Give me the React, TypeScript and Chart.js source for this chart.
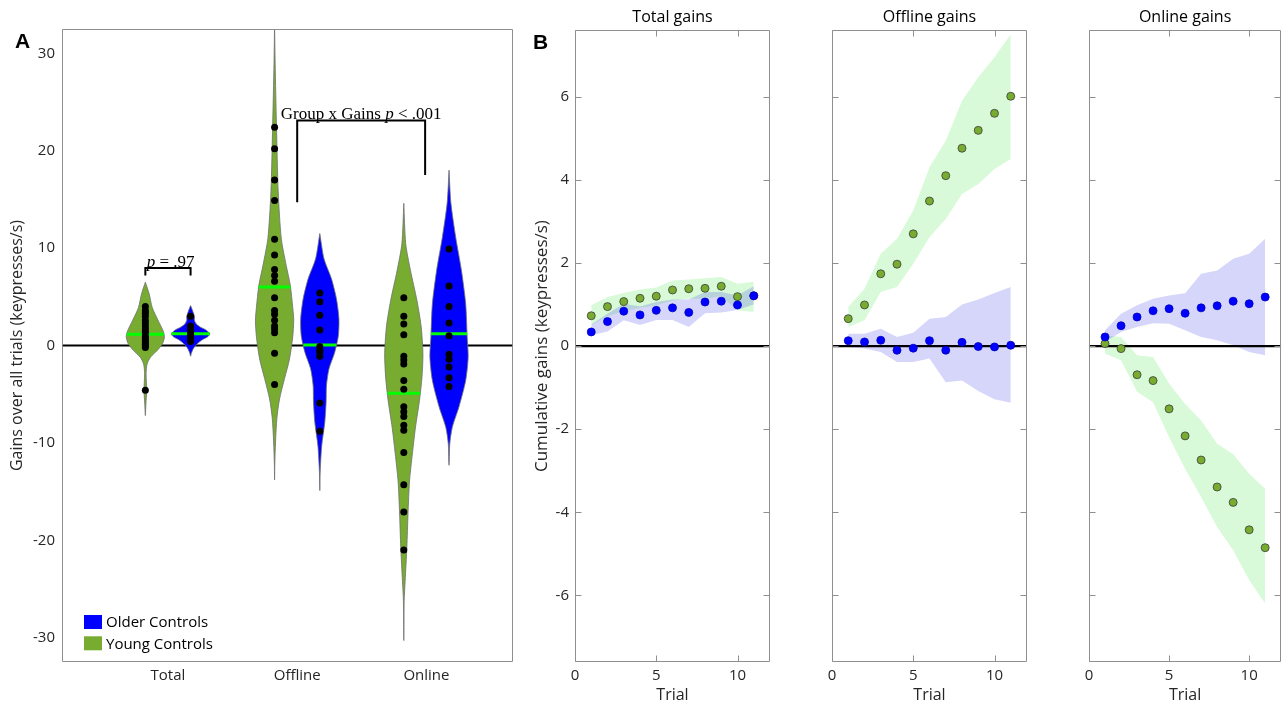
import React, { useEffect, useRef } from "react";
import { Chart, registerables } from "chart.js";

Chart.register(...registerables);

// ---------------- Panel A data ----------------
const categories = ["Total", "Offline", "Online"];
const groupNames = ["Older Controls", "Young Controls"];

// violin outlines: y values and relative density (1 = widest)
const totalYoungVY = [6.5, 5.3, 3.9, 2.6, 1.5, 0.9, 0.2, -0.5, -1.2, -1.9, -2.9, -4.6, -6.0, -7.2];
const totalYoungVD = [0, 0.2, 0.36, 0.66, 0.93, 1.0, 0.9, 0.63, 0.27, 0.09, 0.04, 0.07, 0.03, 0];
const totalOlderVY = [4.1, 3.5, 3.0, 2.6, 2.2, 1.9, 1.6, 1.2, 0.9, 0.6, 0.2, -0.3, -0.8, -1.1];
const totalOlderVD = [0, 0.12, 0.2, 0.2, 0.3, 0.5, 0.8, 1.0, 0.9, 0.62, 0.36, 0.15, 0.04, 0];
const offlineYoungVY = [33, 29, 22.6, 15.8, 11.0, 8.2, 6.2, 3.9, 2.6, 0.9, -1.4, -3.4, -5.5, -7.5, -9.9, -12.3, -13.8];
const offlineYoungVD = [0, 0.03, 0.1, 0.19, 0.35, 0.61, 0.82, 0.95, 1.0, 0.95, 0.78, 0.52, 0.26, 0.12, 0.05, 0.01, 0];
const offlineOlderVY = [11.5, 8.9, 6.85, 4.8, 2.74, 1.0, -0.7, -2.4, -4.1, -5.8, -7.9, -10.3, -13.0, -14.9];
const offlineOlderVD = [0, 0.22, 0.61, 0.87, 1.0, 0.97, 0.78, 0.48, 0.35, 0.33, 0.26, 0.1, 0.02, 0];
const onlineYoungVY = [14.6, 10.45, 7.7, 4.6, 1.9, -0.85, -3.26, -5.65, -8.4, -11.1, -13.9, -17.3, -20.7, -24.2, -26.2, -30.3];
const onlineYoungVD = [0, 0.1, 0.35, 0.69, 0.91, 1.0, 0.95, 0.82, 0.61, 0.45, 0.3, 0.22, 0.16, 0.07, 0.02, 0];
const onlineOlderVY = [18.0, 14.6, 11.1, 7.7, 4.3, 0.85, -1.2, -3.6, -6.3, -8.4, -10.1, -12.3];
const onlineOlderVD = [0, 0.1, 0.35, 0.65, 0.87, 0.95, 1.0, 0.87, 0.52, 0.17, 0.04, 0];

// individual participants
const totalYoungDots = [4.0, 3.6, 3.3, 3.0, 2.6, 2.3, 2.0, 1.7, 1.4, 1.2, 0.9, 0.7, 0.5, 0.3, 0.1, 0.0, -0.2, -4.6];
const totalOlderDots = [3.0, 2.0, 1.8, 1.5, 1.3, 1.1, 0.9, 0.7, 0.5, 0.4];
const offlineYoungDots = [22.4, 20.2, 17.0, 14.9, 10.9, 9.3, 7.8, 7.2, 6.6, 4.9, 3.6, 3.2, 2.6, 2.0, 1.7, 1.3, -0.8, -4.0];
const offlineOlderDots = [5.4, 4.5, 3.1, 1.6, -0.1, -0.5, -0.7, -1.1, -5.9, -8.8];
const onlineYoungDots = [4.9, 3.0, 2.2, 1.1, -1.1, -1.5, -1.9, -3.6, -4.5, -6.3, -6.8, -7.3, -8.2, -8.7, -11.0, -14.3, -17.1, -21.0];
const onlineOlderDots = [9.9, 6.1, 4.0, 2.3, 1.0, -0.9, -1.4, -2.2, -3.3, -4.2];

const youngMedians = [1.15, 6.0, -4.9];
const olderMedians = [1.2, 0.05, 1.2];

// significance brackets (data units)
const pBracketX = [0.825, 0.825, 1.175, 1.175];
const pBracketY = [7.2, 7.95, 7.95, 7.2];
const groupBracketX = [2.0, 2.0, 2.99, 2.99];
const groupBracketY = [14.7, 23.1, 23.1, 17.5];
const pAnnotation = { x: 1.02, y: 8.1, runs: [["p", true], [" = .97", false]] };
const groupAnnotation = { x: 2.495, y: 23.3, runs: [["Group x Gains ", false], ["p", true], [" < .001", false]] };

// ---------------- Panel B data ----------------
const trials = [1, 2, 3, 4, 5, 6, 7, 8, 9, 10, 11];
const panelTitles = ["Total gains", "Offline gains", "Online gains"];

const totalYoungMean = [0.73, 0.95, 1.07, 1.15, 1.2, 1.35, 1.38, 1.39, 1.44, 1.19, 1.21];
const totalYoungUpper = [0.98, 1.18, 1.28, 1.36, 1.41, 1.58, 1.6, 1.63, 1.66, 1.5, 1.55];
const totalYoungLower = [0.5, 0.72, 0.84, 0.92, 0.98, 1.1, 1.14, 1.14, 1.2, 0.86, 0.82];
const totalOlderMean = [0.34, 0.59, 0.84, 0.75, 0.86, 0.92, 0.81, 1.06, 1.08, 0.99, 1.21];
const totalOlderUpper = [0.52, 0.78, 1.02, 0.95, 1.06, 1.12, 1.12, 1.3, 1.3, 1.22, 1.44];
const totalOlderLower = [0.26, 0.35, 0.62, 0.51, 0.63, 0.63, 0.46, 0.79, 0.81, 0.87, 1.0];

const offlineYoungMean = [0.66, 0.99, 1.74, 1.97, 2.7, 3.49, 4.1, 4.76, 5.19, 5.6, 6.01];
const offlineYoungUpper = [0.94, 1.38, 2.22, 2.58, 3.26, 4.3, 4.94, 5.9, 6.47, 6.95, 7.5];
const offlineYoungLower = [0.46, 0.62, 1.3, 1.42, 1.98, 2.62, 3.06, 3.66, 3.9, 4.26, 4.5];
const offlineOlderMean = [0.13, 0.1, 0.14, -0.1, -0.05, 0.13, -0.1, 0.09, -0.01, -0.02, 0.02];
const offlineOlderUpper = [0.3, 0.3, 0.42, 0.22, 0.32, 0.66, 0.7, 1.0, 1.12, 1.28, 1.42];
const offlineOlderLower = [-0.02, -0.06, -0.14, -0.38, -0.38, -0.3, -0.87, -0.83, -1.08, -1.28, -1.36];

const onlineYoungMean = [0.06, -0.06, -0.69, -0.83, -1.51, -2.16, -2.74, -3.39, -3.76, -4.42, -4.85];
const onlineYoungUpper = [0.26, 0.22, -0.22, -0.26, -0.9, -1.39, -1.79, -2.35, -2.6, -3.07, -3.43];
const onlineYoungLower = [-0.18, -0.34, -1.1, -1.35, -2.19, -2.95, -3.63, -4.35, -4.91, -5.63, -6.19];
const onlineOlderMean = [0.22, 0.49, 0.7, 0.85, 0.9, 0.79, 0.92, 0.97, 1.08, 1.02, 1.18];
const onlineOlderUpper = [0.38, 0.78, 0.98, 1.14, 1.22, 1.27, 1.74, 1.82, 2.1, 2.22, 2.58];
const onlineOlderLower = [0.1, 0.34, 0.46, 0.55, 0.54, 0.38, 0.22, 0.14, 0.02, -0.14, -0.22];

// ---------------- style ----------------
const SANS = "'Open Sans', 'DejaVu Sans', sans-serif";
const SERIF = "'Liberation Serif', 'DejaVu Serif', serif";
const TEXT = "#262626";
const FRAME = "#8f8f8f";
const GREEN = "rgb(119,172,48)";
const BLUE = "rgb(0,0,255)";
const MEDIAN = "rgb(0,255,0)";
const GREEN_BAND = "rgba(60,230,60,0.2)";
const BLUE_BAND = "rgba(50,50,230,0.2)";
const VIOLIN_HALF = 0.148;
const GROUP_OFFSET = 0.175;
const A_X_MIN = 0.18;
const A_X_MAX = 3.67;
const A_Y_LIM = 32.5;
const B_X_MIN = 0;
const B_X_MAX = 12;
const B_Y_LIM = 7.6;

function densityAt(ys: number[], ds: number[], v: number) {
  for (let i = 0; i < ys.length - 1; i++) {
    const a = ys[i], b = ys[i + 1];
    if (v <= a && v >= b) {
      const t = (a - v) / (a - b);
      return ds[i] + t * (ds[i + 1] - ds[i]);
    }
  }
  return 0;
}

function violinOutline(center: number, ys: number[], ds: number[]) {
  const right = ys.map((y, i) => ({ x: center + ds[i] * VIOLIN_HALF, y }));
  const left: { x: number; y: number }[] = [];
  for (let i = ys.length - 2; i >= 1; i--) left.push({ x: center - ds[i] * VIOLIN_HALF, y: ys[i] });
  return [...right, ...left, right[0]];
}

function framePlugin(innerTicks: boolean) {
  return {
    id: "frameBox",
    afterDraw(chart: any) {
      const { ctx, chartArea: a, scales } = chart;
      const L = Math.round(a.left) + 0.5;
      const R = Math.round(a.right) - 0.5;
      const T = Math.round(a.top) + 0.5;
      const B = Math.round(a.bottom) - 0.5;
      ctx.save();
      ctx.strokeStyle = FRAME;
      ctx.lineWidth = 1;
      ctx.beginPath();
      ctx.rect(L, T, R - L, B - T);
      if (innerTicks) {
        const tl = 6;
        scales.x.ticks.forEach((t: any) => {
          const px = Math.round(scales.x.getPixelForValue(t.value)) + 0.5;
          ctx.moveTo(px, B);
          ctx.lineTo(px, B - tl);
          ctx.moveTo(px, T);
          ctx.lineTo(px, T + tl);
        });
        scales.y.ticks.forEach((t: any) => {
          const py = Math.round(scales.y.getPixelForValue(t.value)) + 0.5;
          ctx.moveTo(L, py);
          ctx.lineTo(L + tl, py);
          ctx.moveTo(R, py);
          ctx.lineTo(R - tl, py);
        });
      }
      ctx.stroke();
      ctx.restore();
    },
  };
}

const annotationPlugin = {
  id: "sigText",
  afterDatasetsDraw(chart: any) {
    const { ctx, scales } = chart;
    [pAnnotation, groupAnnotation].forEach((an: any) => {
      ctx.save();
      ctx.fillStyle = "#000";
      ctx.textBaseline = "alphabetic";
      const fonts = an.runs.map((r: any) => `${r[1] ? "italic " : ""}17px ${SERIF}`);
      let total = 0;
      const widths = an.runs.map((r: any, i: number) => {
        ctx.font = fonts[i];
        const w = ctx.measureText(r[0]).width;
        total += w;
        return w;
      });
      let cx = scales.x.getPixelForValue(an.x) - total / 2;
      const cy = scales.y.getPixelForValue(an.y);
      an.runs.forEach((r: any, i: number) => {
        ctx.font = fonts[i];
        ctx.fillText(r[0], cx, cy);
        cx += widths[i];
      });
      ctx.restore();
    });
  },
};

const groupLegendPlugin = {
  id: "groupLegend",
  afterDraw(chart: any) {
    const { ctx, chartArea: a } = chart;
    const colors = [BLUE, GREEN];
    ctx.save();
    groupNames.forEach((name, i) => {
      const yc = a.bottom - 40 + i * 21.3;
      ctx.fillStyle = colors[i];
      ctx.fillRect(a.left + 22, yc - 7, 18, 14);
      ctx.fillStyle = "#000";
      ctx.font = `15px ${SANS}`;
      ctx.textBaseline = "middle";
      ctx.textAlign = "left";
      ctx.fillText(name, a.left + 44, yc + 1);
    });
    ctx.restore();
  },
};

function buildPanelA() {
  const datasets: any[] = [];
  datasets.push({
    data: [{ x: A_X_MIN, y: 0 }, { x: A_X_MAX, y: 0 }],
    borderColor: "#000",
    borderWidth: 2,
    pointRadius: 0,
    order: 100,
  });
  const specs = [
    { cat: 0, side: -1, ys: totalYoungVY, ds: totalYoungVD, dots: totalYoungDots, med: youngMedians[0], color: GREEN },
    { cat: 0, side: 1, ys: totalOlderVY, ds: totalOlderVD, dots: totalOlderDots, med: olderMedians[0], color: BLUE },
    { cat: 1, side: -1, ys: offlineYoungVY, ds: offlineYoungVD, dots: offlineYoungDots, med: youngMedians[1], color: GREEN },
    { cat: 1, side: 1, ys: offlineOlderVY, ds: offlineOlderVD, dots: offlineOlderDots, med: olderMedians[1], color: BLUE },
    { cat: 2, side: -1, ys: onlineYoungVY, ds: onlineYoungVD, dots: onlineYoungDots, med: youngMedians[2], color: GREEN },
    { cat: 2, side: 1, ys: onlineOlderVY, ds: onlineOlderVD, dots: onlineOlderDots, med: olderMedians[2], color: BLUE },
  ];
  specs.forEach((s) => {
    const c = s.cat + 1 + s.side * GROUP_OFFSET;
    datasets.push({
      data: violinOutline(c, s.ys, s.ds),
      fill: "shape",
      backgroundColor: s.color,
      borderColor: "#6e6e6e",
      borderWidth: 0.8,
      pointRadius: 0,
      tension: 0.25,
      order: 50,
    });
    const hw = densityAt(s.ys, s.ds, s.med) * VIOLIN_HALF;
    datasets.push({
      data: [{ x: c - hw, y: s.med }, { x: c + hw, y: s.med }],
      borderColor: MEDIAN,
      borderWidth: 3,
      pointRadius: 0,
      order: 40,
    });
    datasets.push({
      data: s.dots.map((v) => ({ x: c, y: v })),
      showLine: false,
      pointRadius: 3.5,
      pointBackgroundColor: "#000",
      pointBorderColor: "#000",
      pointBorderWidth: 0,
      order: 30,
    });
  });
  [[pBracketX, pBracketY], [groupBracketX, groupBracketY]].forEach(([bx, by]) => {
    datasets.push({
      data: bx.map((x, i) => ({ x, y: by[i] })),
      borderColor: "#000",
      borderWidth: 2,
      pointRadius: 0,
      clip: false,
      order: 20,
    });
  });

  return {
    type: "line",
    data: { datasets },
    options: {
      animation: false,
      responsive: false,
      maintainAspectRatio: false,
      events: [],
      layout: { padding: { left: 0, right: 7, top: 29, bottom: 0 } },
      plugins: { legend: { display: false }, tooltip: { enabled: false }, title: { display: false } },
      scales: {
        x: {
          type: "linear",
          min: A_X_MIN,
          max: A_X_MAX,
          grid: { display: false, drawTicks: false },
          border: { display: false },
          ticks: {
            stepSize: 1,
            includeBounds: false,
            autoSkip: false,
            maxRotation: 0,
            padding: 5,
            color: TEXT,
            font: { family: SANS, size: 15 },
            callback: (v: number) => categories[Math.round(v) - 1] ?? "",
          },
          afterFit: (s: any) => {
            s.height = 41;
          },
        },
        y: {
          type: "linear",
          min: -A_Y_LIM,
          max: A_Y_LIM,
          grid: { display: false, drawTicks: false },
          border: { display: false },
          ticks: { stepSize: 10, includeBounds: false, padding: 7, color: TEXT, font: { family: SANS, size: 15 } },
          title: {
            display: true,
            text: "Gains over all trials (keypresses/s)",
            color: TEXT,
            font: { family: SANS, size: 16 },
            padding: { top: 8, bottom: 0 },
          },
          afterFit: (s: any) => {
            s.width = 62;
          },
        },
      },
    },
    plugins: [annotationPlugin, groupLegendPlugin, framePlugin(false)],
  };
}

function buildPanelB(
  idx: number,
  yMean: number[], yUp: number[], yLo: number[],
  oMean: number[], oUp: number[], oLo: number[],
  axisWidth: number, rightPad: number, showY: boolean
) {
  const pts = (arr: number[]) => trials.map((t, i) => ({ x: t, y: arr[i] }));
  const datasets: any[] = [
    { data: pts(yUp), fill: "+1", backgroundColor: GREEN_BAND, borderWidth: 0, pointRadius: 0, order: 60 },
    { data: pts(yLo), fill: false, borderWidth: 0, pointRadius: 0, order: 59 },
    { data: pts(oUp), fill: "+1", backgroundColor: BLUE_BAND, borderWidth: 0, pointRadius: 0, order: 50 },
    { data: pts(oLo), fill: false, borderWidth: 0, pointRadius: 0, order: 49 },
    { data: [{ x: B_X_MIN, y: 0 }, { x: B_X_MAX, y: 0 }], borderColor: "#000", borderWidth: 2.2, pointRadius: 0, order: 40 },
    {
      data: pts(yMean), showLine: false, pointRadius: 4, pointBackgroundColor: GREEN,
      pointBorderColor: "#3c3c3c", pointBorderWidth: 0.8, order: 20,
    },
    {
      data: pts(oMean), showLine: false, pointRadius: 4, pointBackgroundColor: BLUE,
      pointBorderColor: "#0000c0", pointBorderWidth: 0.8, order: 10,
    },
  ];
  return {
    type: "line",
    data: { datasets },
    options: {
      animation: false,
      responsive: false,
      maintainAspectRatio: false,
      events: [],
      layout: { padding: { left: 0, right: rightPad, top: 0, bottom: 0 } },
      plugins: {
        legend: { display: false },
        tooltip: { enabled: false },
        title: {
          display: true,
          text: panelTitles[idx],
          fullSize: false,
          color: "#000",
          font: { family: SANS, size: 16, weight: "normal" },
          padding: { top: 8, bottom: 3 },
        },
      },
      scales: {
        x: {
          type: "linear",
          min: B_X_MIN,
          max: B_X_MAX,
          grid: { display: false, drawTicks: false },
          border: { display: false },
          ticks: { stepSize: 5, includeBounds: false, maxRotation: 0, padding: 5, color: TEXT, font: { family: SANS, size: 15 } },
          title: { display: true, text: "Trial", color: TEXT, font: { family: SANS, size: 16 }, padding: { top: 0, bottom: -2 } },
          afterFit: (s: any) => {
            s.height = 41;
          },
        },
        y: {
          type: "linear",
          min: -B_Y_LIM,
          max: B_Y_LIM,
          grid: { display: false, drawTicks: false },
          border: { display: false },
          ticks: { display: showY, stepSize: 2, includeBounds: false, padding: 6, color: TEXT, font: { family: SANS, size: 15 } },
          title: {
            display: showY,
            text: "Cumulative gains (keypresses/s)",
            color: TEXT,
            font: { family: SANS, size: 17 },
            padding: { top: 12, bottom: 0 },
          },
          afterFit: (s: any) => {
            s.width = axisWidth;
          },
        },
      },
    },
    plugins: [framePlugin(true)],
  };
}

export default function App() {
  const refA = useRef<HTMLCanvasElement>(null);
  const refB1 = useRef<HTMLCanvasElement>(null);
  const refB2 = useRef<HTMLCanvasElement>(null);
  const refB3 = useRef<HTMLCanvasElement>(null);

  useEffect(() => {
    const charts = [
      new Chart(refA.current as any, buildPanelA() as any),
      new Chart(
        refB1.current as any,
        buildPanelB(0, totalYoungMean, totalYoungUpper, totalYoungLower, totalOlderMean, totalOlderUpper, totalOlderLower, 55, 5, true) as any
      ),
      new Chart(
        refB2.current as any,
        buildPanelB(1, offlineYoungMean, offlineYoungUpper, offlineYoungLower, offlineOlderMean, offlineOlderUpper, offlineOlderLower, 20, 5, false) as any
      ),
      new Chart(
        refB3.current as any,
        buildPanelB(2, onlineYoungMean, onlineYoungUpper, onlineYoungLower, onlineOlderMean, onlineOlderUpper, onlineOlderLower, 20, 2, false) as any
      ),
    ];
    return () => charts.forEach((c) => c.destroy());
  }, []);

  const abs = (left: number, width: number) => ({ position: "absolute" as const, left, top: 0, width, height: 703 });
  const panelLabel = (left: number, top: number) => ({
    position: "absolute" as const,
    left,
    top,
    font: `bold 21px 'Liberation Sans', Arial, sans-serif`,
    lineHeight: "22px",
    color: "#000",
  });

  return (
    <div style={{ position: "fixed", left: 0, top: 0, width: 1286, height: 703, background: "#fff", overflow: "hidden" }}>
      <canvas ref={refA} width={520} height={703} style={abs(0, 520)} />
      <canvas ref={refB1} width={255} height={703} style={abs(520, 255)} />
      <canvas ref={refB2} width={220} height={703} style={abs(812, 220)} />
      <canvas ref={refB3} width={217} height={703} style={abs(1069, 217)} />
      <div style={panelLabel(15, 30)}>A</div>
      <div style={panelLabel(533, 31)}>B</div>
    </div>
  );
}
